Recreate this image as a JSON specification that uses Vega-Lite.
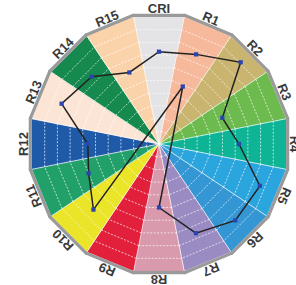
{
  "$schema": "https://vega.github.io/schema/vega-lite/v6.json",
  "width": 296,
  "height": 285,
  "autosize": {"type": "none"},
  "padding": 0,
  "background": "white",
  "config": {"view": {"stroke": null}},
  "data": {
    "values": [
      {"cat": "CRI", "i": 0, "v": 72.7},
      {"cat": "R1", "i": 1, "v": 76.4},
      {"cat": "R2", "i": 2, "v": 91},
      {"cat": "R3", "i": 3, "v": 54},
      {"cat": "R4", "i": 4, "v": 63},
      {"cat": "R5", "i": 5, "v": 86},
      {"cat": "R6", "i": 6, "v": 85},
      {"cat": "R7", "i": 7, "v": 76},
      {"cat": "R8", "i": 8, "v": 50},
      {"cat": "R9", "i": 9, "v": -49},
      {"cat": "R10", "i": 10, "v": 73},
      {"cat": "R11", "i": 11, "v": 60},
      {"cat": "R12", "i": 12, "v": 56},
      {"cat": "R13", "i": 13, "v": 83},
      {"cat": "R14", "i": 14, "v": 75},
      {"cat": "R15", "i": 15, "v": 61}
    ]
  },
  "encoding": {
    "x": {"field": "x", "type": "quantitative", "scale": {"domain": [-125.2, 107.9], "nice": false, "zero": false}, "axis": null},
    "y": {"field": "y", "type": "quantitative", "scale": {"domain": [-111.0, 113.4], "nice": false, "zero": false}, "axis": null}
  },
  "layer": [
    {
      "transform": [
        {"calculate": "[0, 1, 2]", "as": "ks"},
        {"flatten": ["ks"], "as": ["k"]},
        {"calculate": "(datum.i + (datum.k == 1 ? -0.5 : 0.5)) * PI / 8", "as": "ang"},
        {"calculate": "datum.k == 0 ? 0 : 101.96", "as": "rr"},
        {"calculate": "datum.rr * sin(datum.ang)", "as": "x"},
        {"calculate": "datum.rr * cos(datum.ang)", "as": "y"}
      ],
      "mark": {"type": "line", "interpolate": "linear-closed", "strokeWidth": 0.3},
      "encoding": {
        "order": {"field": "k", "type": "quantitative"},
        "detail": {"field": "cat"},
        "fill": {"field": "cat", "type": "nominal", "legend": null,
          "scale": {"domain": ["CRI","R1","R2","R3","R4","R5","R6","R7","R8","R9","R10","R11","R12","R13","R14","R15"],
                    "range": ["#e4e4e6","#f6b99b","#c9b56f","#6dbb4e","#0fb497","#2ba5de","#3596d4","#9a8cc2","#d99aae","#e2203c","#ebe52a","#22a06a","#1f5aa8","#fde5d5","#15894e","#fbd3ab"]}},
        "stroke": {"field": "cat", "type": "nominal", "legend": null,
          "scale": {"domain": ["CRI","R1","R2","R3","R4","R5","R6","R7","R8","R9","R10","R11","R12","R13","R14","R15"],
                    "range": ["#e4e4e6","#f6b99b","#c9b56f","#6dbb4e","#0fb497","#2ba5de","#3596d4","#9a8cc2","#d99aae","#e2203c","#ebe52a","#22a06a","#1f5aa8","#fde5d5","#15894e","#fbd3ab"]}}
      }
    },
    {
      "transform": [
        {"calculate": "[10, 20, 30, 40, 50, 60, 70, 80, 90]", "as": "lvs"},
        {"flatten": ["lvs"], "as": ["lv"]},
        {"calculate": "datum.lv * 1.0196 * sin((datum.i - 0.5) * PI / 8)", "as": "x"},
        {"calculate": "datum.lv * 1.0196 * cos((datum.i - 0.5) * PI / 8)", "as": "y"},
        {"calculate": "datum.lv * 1.0196 * sin((datum.i + 0.5) * PI / 8)", "as": "x2"},
        {"calculate": "datum.lv * 1.0196 * cos((datum.i + 0.5) * PI / 8)", "as": "y2"}
      ],
      "mark": {"type": "rule", "color": "white", "strokeWidth": 0.8, "strokeDash": [2, 1.5], "opacity": 0.85},
      "encoding": {
        "x2": {"field": "x2"},
        "y2": {"field": "y2"}
      }
    },
    {
      "transform": [
        {"calculate": "0", "as": "x"},
        {"calculate": "0", "as": "y"},
        {"calculate": "101.96 * sin((datum.i - 0.5) * PI / 8)", "as": "x2"},
        {"calculate": "101.96 * cos((datum.i - 0.5) * PI / 8)", "as": "y2"}
      ],
      "mark": {"type": "rule", "color": "white", "strokeWidth": 0.8, "opacity": 0.9},
      "encoding": {
        "x2": {"field": "x2"},
        "y2": {"field": "y2"}
      }
    },
    {
      "transform": [
        {"calculate": "103.3 * sin((datum.i - 0.5) * PI / 8)", "as": "x"},
        {"calculate": "103.3 * cos((datum.i - 0.5) * PI / 8)", "as": "y"},
        {"calculate": "103.3 * sin((datum.i + 0.5) * PI / 8)", "as": "x2"},
        {"calculate": "103.3 * cos((datum.i + 0.5) * PI / 8)", "as": "y2"}
      ],
      "mark": {"type": "rule", "color": "#9a9a9a", "strokeWidth": 3.2, "strokeCap": "round"},
      "encoding": {
        "x2": {"field": "x2"},
        "y2": {"field": "y2"}
      }
    },
    {
      "transform": [
        {"calculate": "datum.v * sin(datum.i * PI / 8)", "as": "x"},
        {"calculate": "datum.v * cos(datum.i * PI / 8)", "as": "y"}
      ],
      "mark": {"type": "line", "interpolate": "linear-closed", "color": "#222222", "strokeWidth": 1.5},
      "encoding": {
        "order": {"field": "i", "type": "quantitative"}
      }
    },
    {
      "transform": [
        {"calculate": "datum.v * sin(datum.i * PI / 8)", "as": "x"},
        {"calculate": "datum.v * cos(datum.i * PI / 8)", "as": "y"}
      ],
      "mark": {"type": "point", "shape": "square", "filled": true, "size": 18, "color": "#2a45b0", "opacity": 1},
      "encoding": {}
    },
    {
      "transform": [
        {"calculate": "106.5 * sin(datum.i * PI / 8)", "as": "x"},
        {"calculate": "106.5 * cos(datum.i * PI / 8)", "as": "y"},
        {"calculate": "datum.i * 22.5", "as": "deg"}
      ],
      "mark": {"type": "text", "font": "Liberation Sans", "fontWeight": "bold", "fontSize": 13, "color": "#3a3a3a", "align": "center", "baseline": "middle"},
      "encoding": {
        "text": {"field": "cat"},
        "angle": {"field": "deg", "type": "quantitative", "scale": null}
      }
    }
  ]
}
